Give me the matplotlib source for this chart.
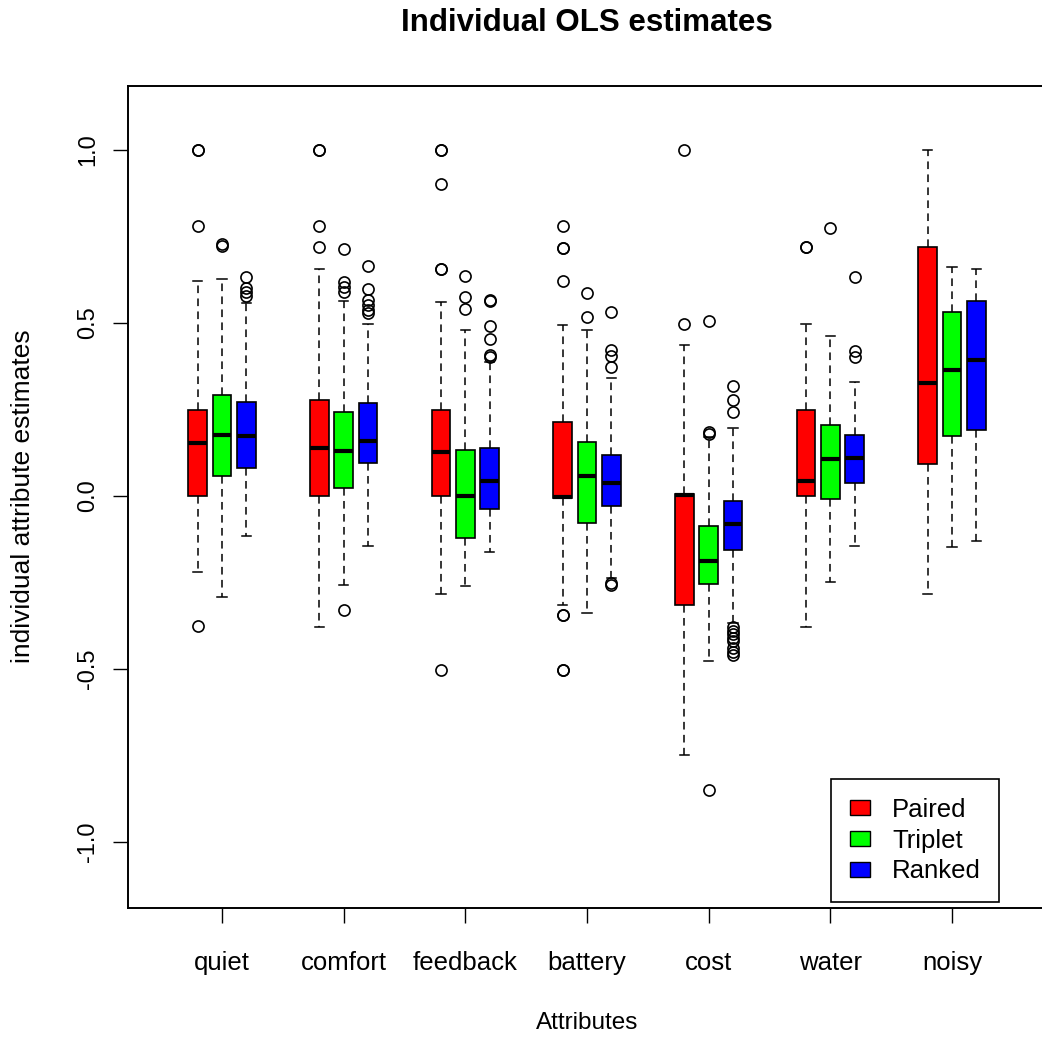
import matplotlib
matplotlib.use('Agg')
import matplotlib.pyplot as plt
from matplotlib.patches import Patch

plt.rcParams['font.family'] = ['Liberation Sans', 'DejaVu Sans']

attributes = ['quiet', 'comfort', 'feedback', 'battery', 'cost', 'water', 'noisy']
methods = ['Paired', 'Triplet', 'Ranked']
colors = ['#FF0000', '#00FF00', '#0000FF']

# Paired
paired_whislo = [-0.221, -0.378, -0.283, -0.315, -0.750, -0.378, -0.282]
paired_q1     = [0.000, 0.000, 0.000, -0.005, -0.315, 0.000, 0.092]
paired_med    = [0.154, 0.140, 0.126, -0.002, 0.002, 0.043, 0.326]
paired_q3     = [0.249, 0.277, 0.248, 0.215, 0.005, 0.249, 0.719]
paired_whishi = [0.622, 0.655, 0.560, 0.495, 0.435, 0.497, 1.000]
paired_fliers = [
    [1.0, 1.0, 0.780, -0.375],
    [1.0, 1.0, 0.780, 0.719],
    [1.0, 1.0, 0.903, 0.655, 0.655, -0.502],
    [0.779, 0.717, 0.717, 0.620, -0.344, -0.344, -0.502, -0.502],
    [1.0, 0.498],
    [0.719, 0.719],
    [],
]

# Triplet
triplet_whislo = [-0.291, -0.257, -0.261, -0.338, -0.476, -0.249, -0.148]
triplet_q1     = [0.058, 0.024, -0.120, -0.077, -0.253, -0.010, 0.173]
triplet_med    = [0.177, 0.130, 0.000, 0.058, -0.187, 0.106, 0.364]
triplet_q3     = [0.292, 0.244, 0.133, 0.157, -0.086, 0.205, 0.531]
triplet_whishi = [0.627, 0.565, 0.480, 0.480, 0.170, 0.463, 0.661]
triplet_fliers = [
    [0.728, 0.722],
    [0.714, 0.619, 0.605, 0.591, -0.329],
    [0.636, 0.574, 0.541],
    [0.588, 0.516],
    [0.507, 0.185, 0.180, -0.850],
    [0.776],
    [],
]

# Ranked
ranked_whislo = [-0.116, -0.144, -0.161, -0.238, -0.368, -0.144, -0.129]
ranked_q1     = [0.081, 0.096, -0.039, -0.028, -0.157, 0.039, 0.191]
ranked_med    = [0.173, 0.159, 0.043, 0.039, -0.080, 0.111, 0.392]
ranked_q3     = [0.273, 0.268, 0.138, 0.118, -0.014, 0.176, 0.565]
ranked_whishi = [0.557, 0.497, 0.386, 0.341, 0.197, 0.329, 0.655]
ranked_fliers = [
    [0.632, 0.600, 0.590, 0.579],
    [0.666, 0.598, 0.566, 0.552, 0.538, 0.530],
    [0.566, 0.564, 0.492, 0.454, 0.408, 0.403],
    [0.531, 0.422, 0.405, 0.373, -0.251, -0.256],
    [0.317, 0.278, 0.242, -0.38, -0.39, -0.40, -0.41, -0.42, -0.44, -0.45, -0.46],
    [0.632, 0.420, 0.403],
    [],
]

yticks = [-1.0, -0.5, 0.0, 0.5, 1.0]
ytick_labels = ['-1.0', '-0.5', '0.0', '0.5', '1.0']

all_series = [
    (paired_whislo, paired_q1, paired_med, paired_q3, paired_whishi, paired_fliers),
    (triplet_whislo, triplet_q1, triplet_med, triplet_q3, triplet_whishi, triplet_fliers),
    (ranked_whislo, ranked_q1, ranked_med, ranked_q3, ranked_whishi, ranked_fliers),
]

W, H = 1042, 1041
fig = plt.figure(figsize=(W / 100, H / 100), dpi=100)
left_px, right_px, top_px, bot_px = 128, 1046, 86, 908
ax = fig.add_axes([left_px / W, 1 - bot_px / H, (right_px - left_px) / W, (bot_px - top_px) / H])

offsets = [-0.2, 0.0, 0.2]
for m, (series, col, off) in enumerate(zip(all_series, colors, offsets)):
    wl, q1, md, q3, wh, fl = series
    stats = []
    for i in range(len(attributes)):
        stats.append(dict(whislo=wl[i], q1=q1[i], med=md[i], q3=q3[i],
                          whishi=wh[i], fliers=fl[i], label=attributes[i]))
    positions = [i + 1 + off for i in range(len(attributes))]
    ax.bxp(stats, positions=positions, widths=0.155, capwidths=0.075,
           patch_artist=True, manage_ticks=False,
           boxprops=dict(facecolor=col, edgecolor='black', linewidth=1.2),
           medianprops=dict(color='black', linewidth=3.0, solid_capstyle='butt'),
           whiskerprops=dict(color='black', linestyle=(0, (5, 3.5)), linewidth=1.1),
           capprops=dict(color='black', linewidth=1.1),
           flierprops=dict(marker='o', markerfacecolor='none', markeredgecolor='black',
                           markersize=8, markeredgewidth=1.2))

ax.set_xlim(0.2274, 7.7726)
ax.set_ylim(-1.1908, 1.185)

ax.set_xticks(range(1, len(attributes) + 1))
ax.set_xticklabels(attributes, fontsize=18.5)
ax.set_yticks(yticks)
ax.set_yticklabels(ytick_labels, fontsize=17, rotation=90, va='center')
ax.tick_params(axis='x', direction='out', length=10.8, width=1.0, pad=20)
ax.tick_params(axis='y', direction='out', length=10.8, width=1.0, pad=10)
for s in ax.spines.values():
    s.set_linewidth(1.4)

fig.text(587 / W, 1 - 23 / H, 'Individual OLS estimates', ha='center', va='center',
         fontsize=22.5, fontweight='bold')
fig.text(587 / W, 1 - 1023 / H, 'Attributes', ha='center', va='center', fontsize=17.5)
fig.text(23 / W, 1 - 496 / H, 'individual attribute estimates', ha='center', va='center',
         rotation=90, fontsize=19)

handles = [Patch(facecolor=c, edgecolor='black', linewidth=1.0) for c in colors]
leg = ax.legend(handles, methods, loc='lower left',
                bbox_to_anchor=((831 - left_px) / (right_px - left_px), (bot_px - 902) / (bot_px - top_px)),
                borderaxespad=0, fontsize=18.5, frameon=True, fancybox=False,
                edgecolor='black', framealpha=1, handlelength=0.8, handleheight=0.55,
                handletextpad=0.85, labelspacing=0.27, borderpad=0.72)
leg.get_frame().set_linewidth(1.2)

fig.savefig('out.png', dpi=100)
